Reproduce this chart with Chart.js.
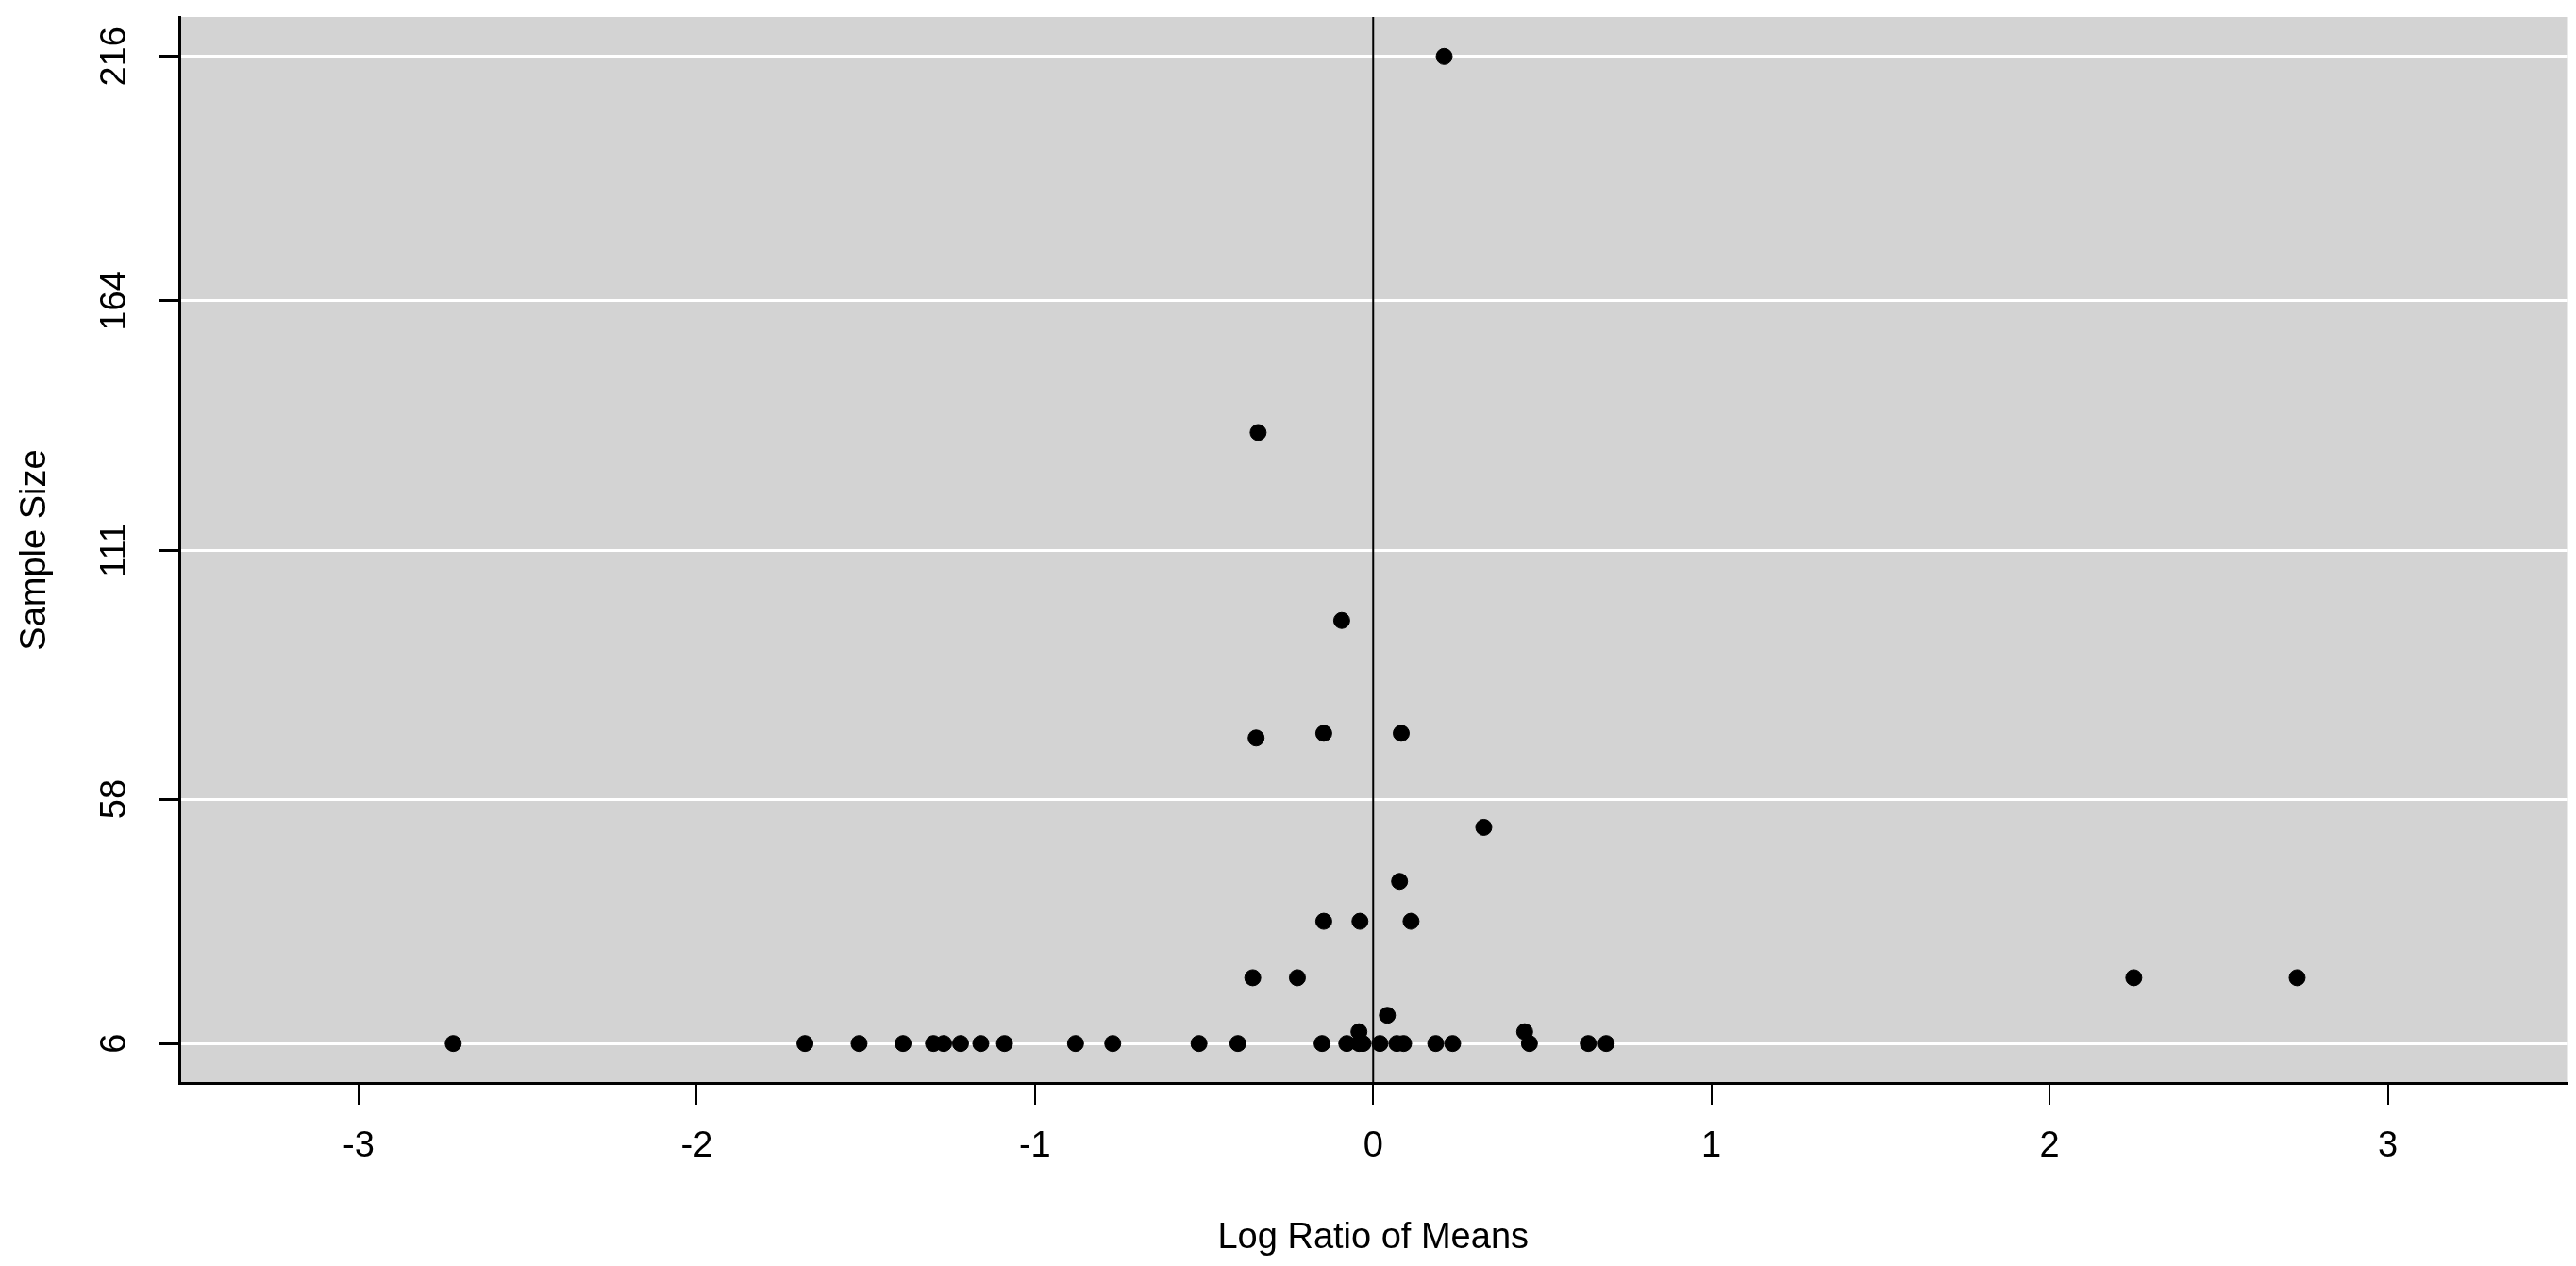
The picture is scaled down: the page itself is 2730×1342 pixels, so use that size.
<!DOCTYPE html>
<html>
<head>
<meta charset="utf-8">
<script src="https://cdn.jsdelivr.net/npm/chart.js@4/dist/chart.umd.min.js"></script>
<style>
  html, body { margin: 0; padding: 0; background: #fff; }
  #wrap { width: 2730px; height: 1342px; }
</style>
</head>
<body>
<div id="wrap"><canvas id="chart"></canvas></div>
<script>
// Données
var logRatio = [-2.72, -1.68, -1.52, -1.39, -1.30, -1.27, -1.22, -1.16, -1.09, -0.88, -0.77,
    -0.515, -0.40, -0.151, -0.078, -0.042, -0.042, -0.03, 0.02, 0.042, 0.07, 0.09, 0.185, 0.235,
    0.448, 0.462, 0.636, 0.689,
    0.21, -0.34, -0.093, -0.346, -0.146, 0.083, 0.327, 0.078, -0.146, -0.039, 0.112,
    -0.356, -0.224, 2.249, 2.732];
var sampleSize = [6, 6, 6, 6, 6, 6, 6, 6, 6, 6, 6,
    6, 6, 6, 6, 6, 8.5, 6, 6, 12, 6, 6, 6, 6,
    8.5, 6, 6, 6,
    216, 136, 96, 71, 72, 72, 52, 40.5, 32, 32, 32,
    20, 20, 20, 20];
var yTicks = [6, 58, 111, 164, 216];
var xTicks = [-3, -2, -1, 0, 1, 2, 3];

var FONT = '"Liberation Sans", Arial, sans-serif';

// Fond gris, ligne verticale à 0 et textes façon R
var rPlot = {
    id: 'rPlot',
    beforeDraw: function(chart) {
        var a = chart.chartArea, c = chart.ctx;
        c.save();
        c.fillStyle = '#d3d3d3';
        c.fillRect(a.left, a.top, a.right - a.left, a.bottom - a.top);
        c.restore();
    },
    beforeDatasetsDraw: function(chart) {
        var a = chart.chartArea, c = chart.ctx;
        var x0 = chart.scales.x.getPixelForValue(0);
        c.save();
        c.strokeStyle = '#000';
        c.lineWidth = 2;
        c.beginPath();
        c.moveTo(x0, a.top);
        c.lineTo(x0, a.bottom);
        c.stroke();
        c.restore();
    },
    afterDraw: function(chart) {
        var a = chart.chartArea, c = chart.ctx, ys = chart.scales.y;
        c.save();
        c.fillStyle = '#000';
        c.font = '38px ' + FONT;
        c.textAlign = 'center';
        c.textBaseline = 'middle';
        yTicks.forEach(function(t) {
            c.save();
            c.translate(123, ys.getPixelForValue(t));
            c.rotate(-Math.PI / 2);
            c.fillText(String(t), 0, 0);
            c.restore();
        });
        c.save();
        c.translate(38, (a.top + a.bottom) / 2);
        c.rotate(-Math.PI / 2);
        c.fillText('Sample Size', 0, 0);
        c.restore();
        c.fillText('Log Ratio of Means', (a.left + a.right) / 2, 1313);
        c.restore();
    }
};

new Chart(document.getElementById('chart'), {
    type: 'scatter',
    data: {
        datasets: [{
            data: logRatio.map(function(x, i) { return { x: x, y: sampleSize[i] }; }),
            backgroundColor: '#000',
            borderColor: '#000',
            pointRadius: 8.5,
            pointHoverRadius: 8.5
        }]
    },
    options: {
        responsive: true,
        maintainAspectRatio: false,
        animation: false,
        devicePixelRatio: 1,
        layout: { padding: { top: 18, right: 4, left: 0, bottom: 0 } },
        plugins: { legend: { display: false }, tooltip: { enabled: false } },
        scales: {
            x: {
                type: 'linear',
                min: -3.53,
                max: 3.53,
                afterBuildTicks: function(s) { s.ticks = xTicks.map(function(v) { return { value: v }; }); },
                afterFit: function(s) { s.height = 194; },
                ticks: { color: '#000', font: { family: FONT, size: 38 }, padding: 22, maxRotation: 0 },
                grid: { drawOnChartArea: false, tickColor: '#000', tickLength: 23, lineWidth: 2 },
                border: { color: '#000', width: 3 }
            },
            y: {
                type: 'linear',
                min: -2.4,
                max: 224.4,
                afterBuildTicks: function(s) { s.ticks = yTicks.map(function(v) { return { value: v }; }); },
                afterFit: function(s) { s.width = 190; },
                ticks: { display: false },
                grid: { color: '#ffffff', lineWidth: 3, tickColor: '#000', tickLength: 22 },
                border: { color: '#000', width: 3 }
            }
        }
    },
    plugins: [rPlot]
});
</script>
</body>
</html>
